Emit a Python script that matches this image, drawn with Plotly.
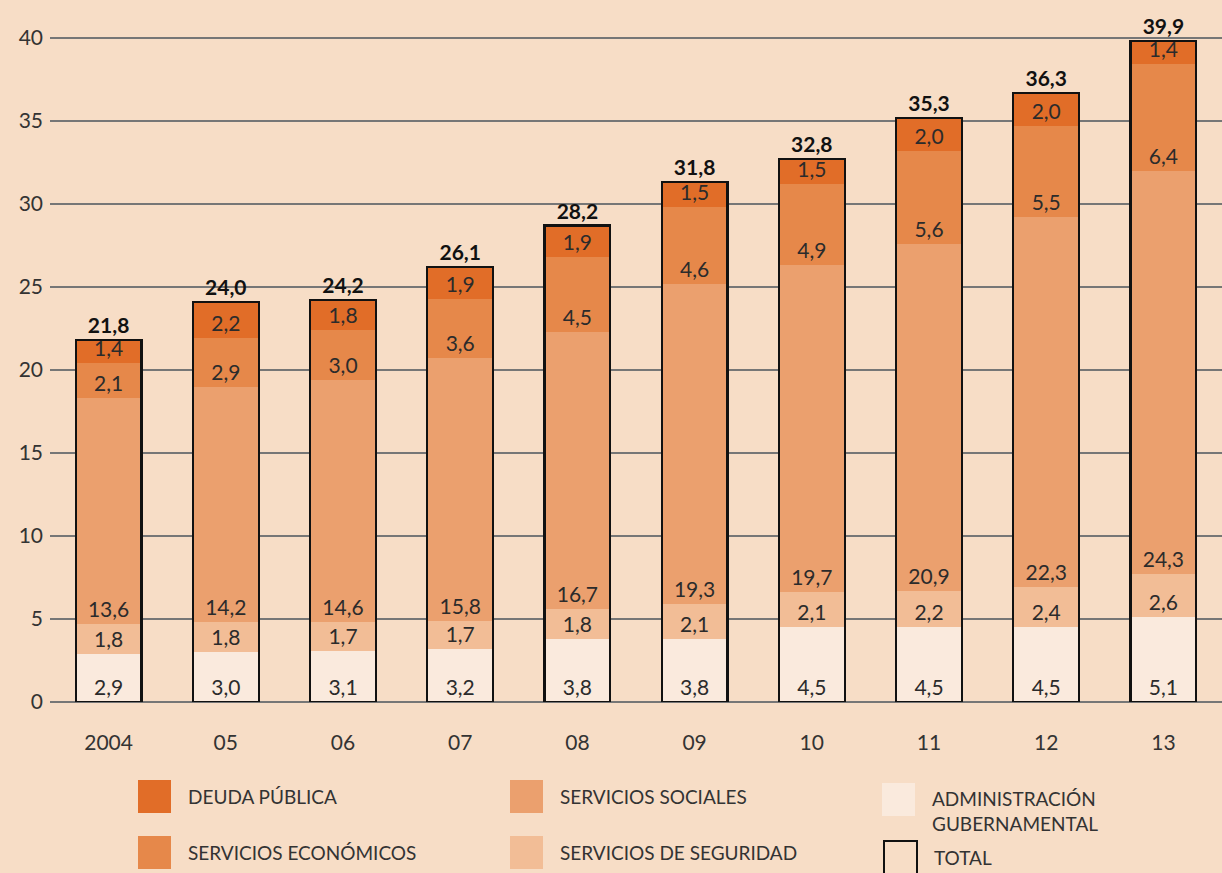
import plotly.graph_objects as go

categories = ["2004", "05", "06", "07", "08", "09", "10", "11", "12", "13"]
admin = [2.9, 3.0, 3.1, 3.2, 3.8, 3.8, 4.5, 4.5, 4.5, 5.1]
seguridad = [1.8, 1.8, 1.7, 1.7, 1.8, 2.1, 2.1, 2.2, 2.4, 2.6]
sociales = [13.6, 14.2, 14.6, 15.8, 16.7, 19.3, 19.7, 20.9, 22.3, 24.3]
economicos = [2.1, 2.9, 3.0, 3.6, 4.5, 4.6, 4.9, 5.6, 5.5, 6.4]
deuda = [1.4, 2.2, 1.8, 1.9, 1.9, 1.5, 1.5, 2.0, 2.0, 1.4]
total = [21.8, 24.0, 24.2, 26.1, 28.2, 31.8, 32.8, 35.3, 36.3, 39.9]
y_ticks = [0, 5, 10, 15, 20, 25, 30, 35, 40]

series = [
    ("ADMINISTRACIÓN<br>GUBERNAMENTAL", admin, "#FAEADD"),
    ("SERVICIOS DE SEGURIDAD", seguridad, "#F2BD96"),
    ("SERVICIOS SOCIALES", sociales, "#EBA06E"),
    ("SERVICIOS ECONÓMICOS", economicos, "#E6884A"),
    ("DEUDA PÚBLICA", deuda, "#E16D28"),
]

FONT = "Lato"
TXT = "#2b2b2b"
BG = "#F7DDC6"

def fmt(v):
    return f"{v:.1f}".replace(".", ",")

W, H = 1222, 873
L, R, T, B = 50, 0, 13, 171
PW, PH = W - L - R, H - T - B

fig = go.Figure()
for name, vals, col in series:
    fig.add_trace(go.Bar(
        x=categories, y=vals, name=name, marker=dict(color=col, line=dict(width=0)),
        text=[fmt(v) for v in vals], textposition="inside", insidetextanchor="start",
        textangle=0, textfont=dict(family=FONT, size=21, color=TXT),
        showlegend=False, cliponaxis=False,
    ))

sums = [round(a + b + c + d + e, 2) for a, b, c, d, e in zip(admin, seguridad, sociales, economicos, deuda)]
fig.add_trace(go.Bar(
    x=categories, y=sums, name="TOTAL", xaxis="x2",
    marker=dict(color="rgba(0,0,0,0)", line=dict(color="#111111", width=2.2)),
    text=[fmt(v) for v in total], textposition="outside",
    textfont=dict(family=FONT, size=21, color="#111111", weight="bold"),
    showlegend=False, cliponaxis=False,
))

fig.update_layout(
    width=W, height=H,
    margin=dict(l=L, r=R, t=T, b=B),
    paper_bgcolor=BG, plot_bgcolor=BG,
    barmode="stack", bargap=0.44,
    uniformtext=dict(minsize=21, mode="show"),
    font=dict(family=FONT, color="#333333"),
    xaxis=dict(type="category", range=[-0.5, 9.5], showgrid=False, showline=False,
               ticks="", tickfont=dict(family=FONT, size=21, color="#333333"),
               ticklabelstandoff=26),
    xaxis2=dict(type="category", range=[-0.5, 9.5], overlaying="x", visible=False,
                matches="x"),
    yaxis=dict(range=[0, 41.5], tickvals=y_ticks, showgrid=True, gridcolor="#767676",
               gridwidth=2, zeroline=True, zerolinecolor="#767676", zerolinewidth=2,
               showline=False, ticks="", tickfont=dict(family=FONT, size=21, color="#333333"),
               ticklabelstandoff=6),
)

def px_x(p):
    return (p - L) / PW

def px_y(p):
    return (H - B - p) / PH

legend_items = [
    ("DEUDA PÚBLICA", "#E16D28", 138, 780, None),
    ("SERVICIOS ECONÓMICOS", "#E6884A", 138, 836, None),
    ("SERVICIOS SOCIALES", "#EBA06E", 510, 780, None),
    ("SERVICIOS DE SEGURIDAD", "#F2BD96", 510, 836, None),
    ("ADMINISTRACIÓN<br>GUBERNAMENTAL", "#FAEADD", 882, 783, None),
    ("TOTAL", None, 884, 841, "#111111"),
]
for label, col, x0, y0, line in legend_items:
    size = 33
    fig.add_shape(type="rect", xref="paper", yref="paper",
                  x0=px_x(x0), x1=px_x(x0 + size), y0=px_y(y0 + size), y1=px_y(y0),
                  fillcolor=col if col else "rgba(0,0,0,0)",
                  line=dict(color=line if line else (col or "black"), width=2 if line else 0))
    yc = y0 + size / 2
    if "<br>" in label:
        yc = y0 + 28
    fig.add_annotation(xref="paper", yref="paper", x=px_x(x0 + 48), y=px_y(yc),
                       text=label, showarrow=False, xanchor="left", yanchor="middle",
                       align="left", font=dict(family=FONT, size=19, color="#333333"))

fig.write_html("out.html", config={"displayModeBar": False},
               post_script="document.body.style.margin='0';document.body.style.overflow='hidden';")
